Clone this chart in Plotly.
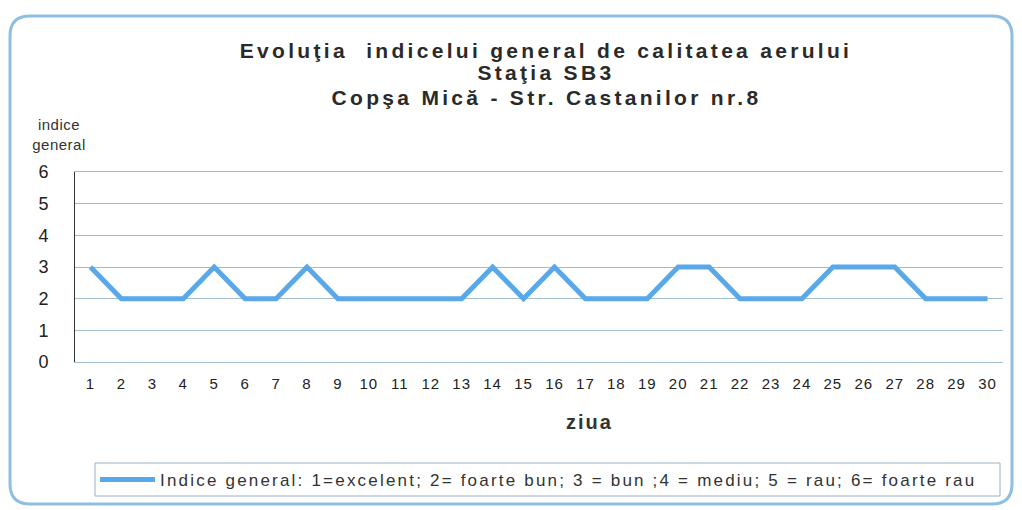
import plotly.graph_objects as go

days = list(range(1, 31))
indice = [3, 2, 2, 2, 3, 2, 2, 3, 2, 2, 2, 2, 2, 3, 2, 3, 2, 2, 2, 3, 3, 2, 2, 2, 3, 3, 3, 2, 2, 2]
y_ticks = [0, 1, 2, 3, 4, 5, 6]
title_lines = ["Evoluţia  indicelui general de calitatea aerului", "Staţia SB3", "Copşa Mică - Str. Castanilor nr.8"]
y_title = "indice<br>general"
x_title = "ziua"
series_name = "Indice general: 1=excelent; 2= foarte bun; 3 = bun ;4 = mediu; 5 = rau; 6= foarte rau"

W, H = 1022, 510
L, R, T, B = 75, 1003, 172, 362

def px(x):
    return (x - L) / (R - L)

def py(y):
    return (B - y) / (B - T)

FONT = "Liberation Sans, Arial, sans-serif"
GRID = "#a3bccd"

fig = go.Figure()
fig.add_trace(go.Scatter(
    x=days, y=indice, mode="lines", name=series_name,
    line=dict(color="#5aa8e8", width=5),
))

annotations = []
for i, t in enumerate(title_lines):
    annotations.append(dict(
        text=t, x=px(546), y=py([50, 73, 97][i]), xref="paper", yref="paper",
        showarrow=False, xanchor="center", yanchor="middle",
        font=dict(family=FONT, size=21, color="#2a2a2a", weight="bold")))
annotations.append(dict(
    text=y_title, x=px(59), y=py(134), xref="paper", yref="paper",
    showarrow=False, xanchor="center", yanchor="middle", align="center",
    font=dict(family=FONT, size=15, color="#333333")))
annotations.append(dict(
    text=x_title, x=px(590), y=py(422), xref="paper", yref="paper",
    showarrow=False, xanchor="center", yanchor="middle",
    font=dict(family=FONT, size=20, color="#333333", weight="bold")))

# rounded outer frame (paper coordinates)
x0, x1, y0, y1 = px(10), px(1012), py(504), py(16)
rx, ry = 20 / (R - L), 20 / (B - T)
frame = (f"M {x0+rx},{y1} L {x1-rx},{y1} Q {x1},{y1} {x1},{y1-ry} "
         f"L {x1},{y0+ry} Q {x1},{y0} {x1-rx},{y0} L {x0+rx},{y0} Q {x0},{y0} {x0},{y0+ry} "
         f"L {x0},{y1-ry} Q {x0},{y1} {x0+rx},{y1} Z")

shapes = [
    dict(type="path", xref="paper", yref="paper", path=frame,
         line=dict(color="#8fbfe0", width=3), layer="below"),
    dict(type="rect", xref="paper", yref="paper", x0=px(95), x1=px(1000), y0=py(496), y1=py(463),
         line=dict(color="#9fb0be", width=1), layer="below"),
]

fig.update_layout(
    width=W, height=H,
    margin=dict(l=L, r=W - R, t=T, b=H - B),
    paper_bgcolor="white", plot_bgcolor="white",
    showlegend=True,
    legend=dict(x=px(95), y=py(480), xanchor="left", yanchor="middle",
                bgcolor="rgba(0,0,0,0)", borderwidth=0,
                font=dict(family=FONT, size=17, color="#333333"), itemwidth=55),
    annotations=annotations, shapes=shapes,
    xaxis=dict(range=[0.5, 30.5], tickmode="array", tickvals=days, ticktext=[str(d) for d in days],
               showgrid=False, zeroline=False, showline=True, mirror=True,
               linecolor=GRID, linewidth=1, ticks="",
               tickfont=dict(family=FONT, size=15, color="#222222"), ticklabelstandoff=8),
    yaxis=dict(range=[0, 6], tickmode="array", tickvals=y_ticks, showgrid=True,
               gridcolor=GRID, gridwidth=1, zeroline=False, showline=True,
               linecolor="#333333", linewidth=1, ticks="",
               tickfont=dict(family=FONT, size=18, color="#222222"), ticklabelstandoff=22),
)

post = """
document.body.style.margin = '0';
document.querySelectorAll('.annotation-text').forEach(function(e){
  var t = e.textContent;
  if (t.indexOf('ziua') === 0) { e.style.letterSpacing = '2px'; }
  else if (t.indexOf('indice') === 0) { e.style.letterSpacing = '0.5px'; }
  else { e.style.letterSpacing = '3.3px'; }
});
document.querySelectorAll('.legendtext').forEach(function(e){ e.style.letterSpacing = '2.2px'; });
document.querySelectorAll('.legend [clip-path]').forEach(function(e){ e.removeAttribute('clip-path'); });
document.querySelectorAll('.xtick text').forEach(function(e){ e.style.letterSpacing = '1px'; });
"""

fig.write_html("out.html", post_script=post, config={"displayModeBar": False})
